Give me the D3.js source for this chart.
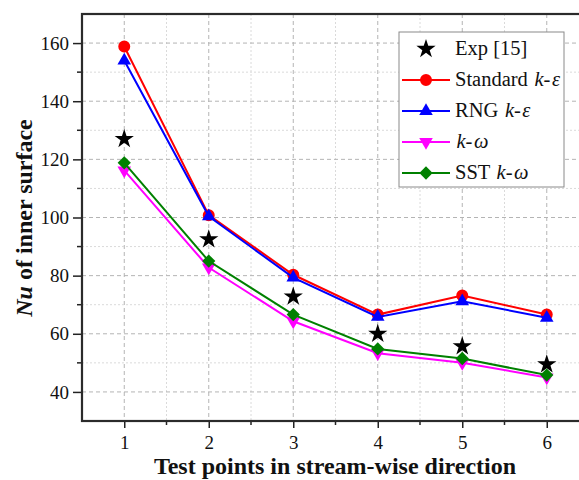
<!DOCTYPE html>
<html lang="en">
<head>
<meta charset="UTF-8">
<title>Nu of inner surface</title>
<script src="https://d3js.org/d3.v7.min.js"></script>
<style>
  body { margin: 0; background: #fff; }
  svg { display: block; font-family: "Liberation Serif", "Times New Roman", serif; }
</style>
</head>
<body>
<svg width="579" height="480"></svg>
<script>
    // data
    let points = [1, 2, 3, 4, 5, 6];
    let exp15 = [127, 92.5, 72.8, 60, 55.7, 49.5];
    let standardKE = [158.8, 100.8, 80.3, 66.6, 73.2, 66.6];
    let rngKE = [154, 100.4, 79.3, 65.8, 71.2, 65.5];
    let kOmega = [116.2, 82.8, 64.3, 53.3, 50, 45];
    let sstKOmega = [118.8, 85, 66.6, 54.8, 51.5, 45.8];
    let yTicks = [40, 60, 80, 100, 120, 140, 160];

    let svg = d3.select("svg");
    let padL = 82, padR = 589, padT = 14, padB = 421;
    let serif = "Liberation Serif";

    let x = d3.scaleLinear().domain([0.5, 6.5]).range([padL, padR]);
    let y = d3.scaleLinear().domain([30, 170]).range([padB, padT]);

    let minorX = [1.5, 2.5, 3.5, 4.5, 5.5];
    let minorY = [50, 70, 90, 110, 130, 150];

    // grid
    let grid = svg.append("g");
    grid.selectAll(".gx").data(points).enter().append("line")
        .attr("x1", d => x(d)).attr("x2", d => x(d))
        .attr("y1", padT).attr("y2", padB)
        .attr("stroke", "#b4b4b4").attr("stroke-dasharray", "4,3");
    grid.selectAll(".gxm").data(minorX).enter().append("line")
        .attr("x1", d => x(d)).attr("x2", d => x(d))
        .attr("y1", padT).attr("y2", padB)
        .attr("stroke", "#dadada").attr("stroke-dasharray", "2,2");
    grid.selectAll(".gy").data(yTicks).enter().append("line")
        .attr("y1", d => y(d)).attr("y2", d => y(d))
        .attr("x1", padL).attr("x2", padR)
        .attr("stroke", "#b4b4b4").attr("stroke-dasharray", "4,3");
    grid.selectAll(".gym").data(minorY).enter().append("line")
        .attr("y1", d => y(d)).attr("y2", d => y(d))
        .attr("x1", padL).attr("x2", padR)
        .attr("stroke", "#dadada").attr("stroke-dasharray", "2,2");

    // axes
    let xAxis = svg.append("g").attr("transform", "translate(0," + padB + ")")
        .call(d3.axisBottom(x).tickValues(points).tickSize(7).tickPadding(8).tickFormat(d3.format("d")));
    xAxis.append("g").selectAll("line").data(minorX).enter().append("line")
        .attr("x1", d => x(d)).attr("x2", d => x(d)).attr("y1", 0).attr("y2", 4)
        .attr("stroke", "#222").attr("stroke-width", 1.5);

    let yAxis = svg.append("g").attr("transform", "translate(" + padL + ",0)")
        .call(d3.axisLeft(y).tickValues(yTicks).tickSize(9).tickPadding(4));
    yAxis.append("g").selectAll("line").data(minorY).enter().append("line")
        .attr("y1", d => y(d)).attr("y2", d => y(d)).attr("x1", 0).attr("x2", -5)
        .attr("stroke", "#222").attr("stroke-width", 1.5);

    [xAxis, yAxis].forEach(a => {
        a.attr("font-family", serif).attr("font-size", 19);
        a.select(".domain").remove();
        a.selectAll(".tick line").attr("stroke", "#222").attr("stroke-width", 1.5);
        a.selectAll(".tick text").attr("fill", "#111");
    });

    // frame
    svg.append("rect").attr("x", padL).attr("y", padT)
        .attr("width", padR - padL).attr("height", padB - padT)
        .attr("fill", "none").attr("stroke", "#2b2b2b").attr("stroke-width", 2.2);

    // axis titles
    svg.append("text").attr("x", 335).attr("y", 474).attr("text-anchor", "middle")
        .attr("font-family", serif).attr("font-size", 24).attr("font-weight", "bold").attr("fill", "#111")
        .text("Test points in stream-wise direction");

    let yl = svg.append("text").attr("transform", "translate(32,218) rotate(-90)")
        .attr("text-anchor", "middle").attr("font-family", serif).attr("font-size", 24)
        .attr("font-weight", "bold").attr("fill", "#111");
    yl.append("tspan").attr("font-style", "italic").text("Nu");
    yl.append("tspan").text(" of inner surface");

    // marker shapes
    let markers = {
        star: { d: d3.symbol().type(d3.symbolStar).size(115)(), rot: 0 },
        circle: { d: d3.symbol().type(d3.symbolCircle).size(113)(), rot: 0 },
        up: { d: d3.symbol().type(d3.symbolTriangle).size(80)(), rot: 0 },
        down: { d: d3.symbol().type(d3.symbolTriangle).size(80)(), rot: 180 },
        diamond: { d: d3.symbol().type(d3.symbolSquare).size(88)(), rot: 45 }
    };
    let place = (m, px, py) => "translate(" + px + "," + py + ")" + (m.rot ? " rotate(" + m.rot + ")" : "");

    // series
    let series = [
        { vals: standardKE, color: "#ff0000", marker: markers.circle },
        { vals: rngKE, color: "#0000ff", marker: markers.up },
        { vals: kOmega, color: "#ff00ff", marker: markers.down },
        { vals: sstKOmega, color: "#008000", marker: markers.diamond }
    ];

    let line = d3.line().x((d, i) => x(points[i])).y(d => y(d));

    svg.append("g").selectAll("path").data(exp15).enter().append("path")
        .attr("d", markers.star.d)
        .attr("transform", (d, i) => place(markers.star, x(points[i]), y(d)))
        .attr("fill", "#000");

    series.forEach(s => {
        let g = svg.append("g");
        g.append("path").attr("d", line(s.vals)).attr("fill", "none")
            .attr("stroke", s.color).attr("stroke-width", 2);
        g.selectAll("path.m").data(s.vals).enter().append("path").attr("class", "m")
            .attr("d", s.marker.d)
            .attr("transform", (d, i) => place(s.marker, x(points[i]), y(d)))
            .attr("fill", s.color);
    });

    // legend
    let lg = svg.append("g").attr("transform", "translate(399,32)");
    lg.append("rect").attr("width", 165).attr("height", 155)
        .attr("fill", "#fff").attr("stroke", "#8a8a8a").attr("stroke-width", 1);

    let rows = [
        { color: "#000", marker: markers.star, noLine: true, label: [["Exp [15]", false]] },
        { color: "#ff0000", marker: markers.circle, label: [["Standard ", false], ["k", true], ["-", false], ["\u03b5", true]] },
        { color: "#0000ff", marker: markers.up, label: [["RNG ", false], ["k", true], ["-", false], ["\u03b5", true]] },
        { color: "#ff00ff", marker: markers.down, label: [["k", true], ["-", false], ["\u03c9", true]] },
        { color: "#008000", marker: markers.diamond, label: [["SST ", false], ["k", true], ["-", false], ["\u03c9", true]] }
    ];
    rows.forEach((r, i) => {
        let cy = 17 + i * 31;
        if (!r.noLine) {
            lg.append("line").attr("x1", 3).attr("x2", 51).attr("y1", cy).attr("y2", cy)
                .attr("stroke", r.color).attr("stroke-width", 2);
        }
        lg.append("path").attr("d", r.marker.d)
            .attr("transform", place(r.marker, 27, cy))
            .attr("fill", r.color);
        let t = lg.append("text").attr("x", 56).attr("y", cy + 6)
            .attr("font-family", serif).attr("font-size", 20.5).attr("fill", "#111");
        // italic k and epsilon/omega sit a little wider apart in the original
        r.label.forEach(p => t.append("tspan").attr("font-style", p[1] ? "italic" : "normal")
            .attr("dx", p[1] ? 1.5 : 0).text(p[0]));
    });
</script>
</body>
</html>
